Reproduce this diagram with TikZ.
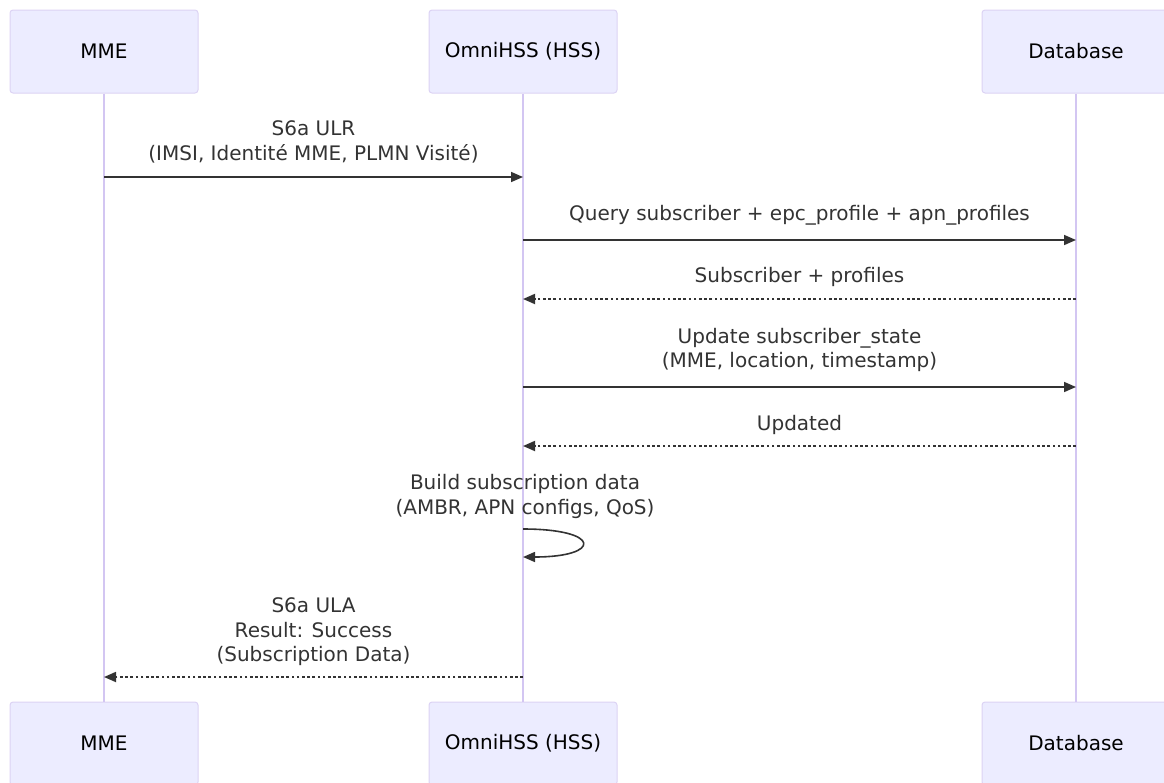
\documentclass[tikz,border=0pt]{standalone}
\usepackage{fontspec}
\setmainfont{DejaVu Sans}
\usetikzlibrary{arrows.meta}
\definecolor{actfill}{HTML}{ECECFF}
\definecolor{actdraw}{HTML}{DCD3F4}
\definecolor{lifecol}{HTML}{D3C6F2}
\definecolor{msgcol}{HTML}{333333}
\definecolor{txtcol}{HTML}{333333}
\tikzset{
  actor/.style={draw=actdraw, fill=actfill, rounded corners=3pt, minimum width=188pt, minimum height=83pt, line width=1pt, text=black, font=\fontsize{20}{24}\selectfont},
  lifeline/.style={draw=lifecol, line width=1.5pt},
  msglabel/.style={align=center, text=txtcol, font=\fontsize{20}{24.5}\selectfont, inner sep=0pt},
  syncmsg/.style={draw=msgcol, line width=1.6pt, -{Triangle[length=12pt,width=10pt]}},
  replymsg/.style={draw=msgcol, line width=1.8pt, dash pattern=on 2.6pt off 2.6pt, -{Triangle[length=12pt,width=10pt]}},
}
\begin{document}
\begin{tikzpicture}[x=1pt,y=-1pt]
\useasboundingbox (0,0) rectangle (1164,782);
\clip (0,0) rectangle (1164,782);
% actors
\node[actor] (mmeT) at (104,51.5) {MME};
\node[actor] (hssT) at (523,51.5) {OmniHSS (HSS)};
\node[actor] (dbT) at (1076,51.5) {Database};
\node[actor] (mmeB) at (104,743.5) {MME};
\node[actor] (hssB) at (523,743.5) {OmniHSS (HSS)};
\node[actor] (dbB) at (1076,743.5) {Database};
% lifelines
\draw[lifeline] (mmeT) -- (mmeB);
\draw[lifeline] (hssT) -- (hssB);
\draw[lifeline] (dbT) -- (dbB);
% message anchors
\coordinate (m1a) at (104,177); \coordinate (m1b) at (523,177);
\coordinate (m2a) at (523,240); \coordinate (m2b) at (1076,240);
\coordinate (m3a) at (1076,299); \coordinate (m3b) at (523,299);
\coordinate (m4a) at (523,387); \coordinate (m4b) at (1076,387);
\coordinate (m5a) at (1076,446); \coordinate (m5b) at (523,446);
\coordinate (m6a) at (523,529); \coordinate (m6b) at (523,557);
\coordinate (m7a) at (523,677); \coordinate (m7b) at (104,677);
% messages
\draw[syncmsg] (m1a) -- (m1b);
\node[msglabel] (l1) at (313.5,142) {S6a ULR\\(IMSI, Identité MME, PLMN Visité)};
\draw[syncmsg] (m2a) -- (m2b);
\node[msglabel] (l2) at (799.5,215) {Query subscriber + epc\_profile + apn\_profiles};
\draw[replymsg] (m3a) -- (m3b);
\node[msglabel] (l3) at (799.5,277) {Subscriber + profiles};
\draw[syncmsg] (m4a) -- (m4b);
\node[msglabel] (l4) at (799.5,350) {Update subscriber\_state\\(MME, location, timestamp)};
\draw[replymsg] (m5a) -- (m5b);
\node[msglabel] (l5) at (799.5,425) {Updated};
\draw[syncmsg] (m6a) .. controls (602,529) and (602,557) .. (m6b);
\node[msglabel] (l6) at (525,496.5) {Build subscription data\\(AMBR, APN configs, QoS)};
\draw[replymsg] (m7a) -- (m7b);
\node[msglabel] (l7) at (313.5,632) {S6a ULA\\Result: Success\\(Subscription Data)};
\end{tikzpicture}
\end{document}
